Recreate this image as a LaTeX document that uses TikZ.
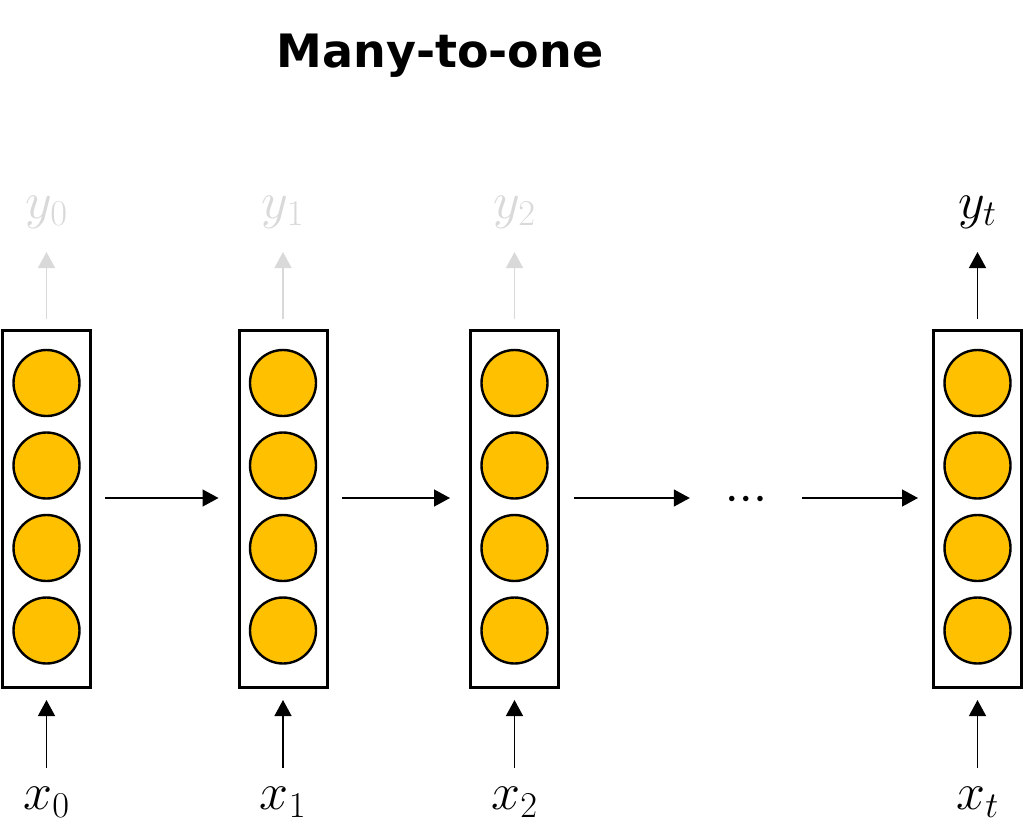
\RequirePackage{fix-cm}
\documentclass[tikz,border=0pt]{standalone}
\usepackage{fontspec}
\newfontfamily\titlefont{DejaVu Sans}
\usetikzlibrary{arrows.meta}
\definecolor{cellfill}{HTML}{FFC000}
\definecolor{faded}{HTML}{D9D9D9}
\tikzset{
  layerbox/.style={draw=black, line width=3pt, minimum width=88pt, minimum height=357pt, inner sep=0pt},
  cell/.style={circle, draw=black, line width=2.4pt, fill=cellfill, minimum size=66pt, inner sep=0pt},
  conn/.style={line width=1.4pt, -{Triangle[length=16pt,width=17pt]}},
  fadedconn/.style={conn, draw=faded},
  lbl/.style={font=\fontsize{52}{60}\selectfont, inner sep=0pt},
}
\begin{document}
\begin{tikzpicture}[x=1pt,y=-1pt]
\useasboundingbox (0,0) rectangle (1024,830);
\node[font=\titlefont\bfseries\fontsize{46}{52}\selectfont, inner sep=0pt] (title) at (440,56) {Many-to-one};
\foreach \i/\xc in {0/46.5,1/283,2/514.5,3/977.5}{
  \node[layerbox] (b\i) at (\xc,509) {};
  \foreach \j/\yc in {1/383,2/465.5,3/548,4/630.5}{
    \node[cell] (c\i\j) at (\xc,\yc) {};
  }
  \coordinate (in\i) at (\xc,768);
  \coordinate (out\i) at (\xc,252);
}
% inputs
\node[lbl] (x0) at (46.5,802) {$x_0$};
\node[lbl] (x1) at (283,802) {$x_1$};
\node[lbl] (x2) at (514.5,802) {$x_2$};
\node[lbl] (xt) at (977.5,802) {$x_t$};
% outputs
\node[lbl, text=faded] (y0) at (46.5,212) {$y_0$};
\node[lbl, text=faded] (y1) at (283,212) {$y_1$};
\node[lbl, text=faded] (y2) at (514.5,212) {$y_2$};
\node[lbl] (yt) at (977.5,212) {$y_t$};
% dots
\node[font=\fontsize{14}{14}\selectfont, inner sep=0pt, minimum width=48pt] (dots) at (746,499) {$\bullet\hspace{4pt}\bullet\hspace{4pt}\bullet$};
\coordinate (row) at (746,498);
% input arrows
\foreach \i in {0,1,2,3}{
  \draw[conn, shorten >=11pt] (in\i) -- (b\i.south);
}
% output arrows
\foreach \i in {0,1,2}{
  \draw[fadedconn, shorten <=10pt] (b\i.north) -- (out\i);
}
\draw[conn, shorten <=10pt] (b3.north) -- (out3);
% recurrent arrows
\draw[conn, shorten <=13pt, shorten >=19pt] (b0.east |- row) -- (b1.west |- row);
\draw[conn, shorten <=13pt, shorten >=19pt] (b1.east |- row) -- (b2.west |- row);
\draw[conn, shorten <=14pt, shorten >=32pt] (b2.east |- row) -- (dots.west |- row);
\draw[conn, shorten <=32pt, shorten >=14pt] (dots.east |- row) -- (b3.west |- row);
\end{tikzpicture}
\end{document}
